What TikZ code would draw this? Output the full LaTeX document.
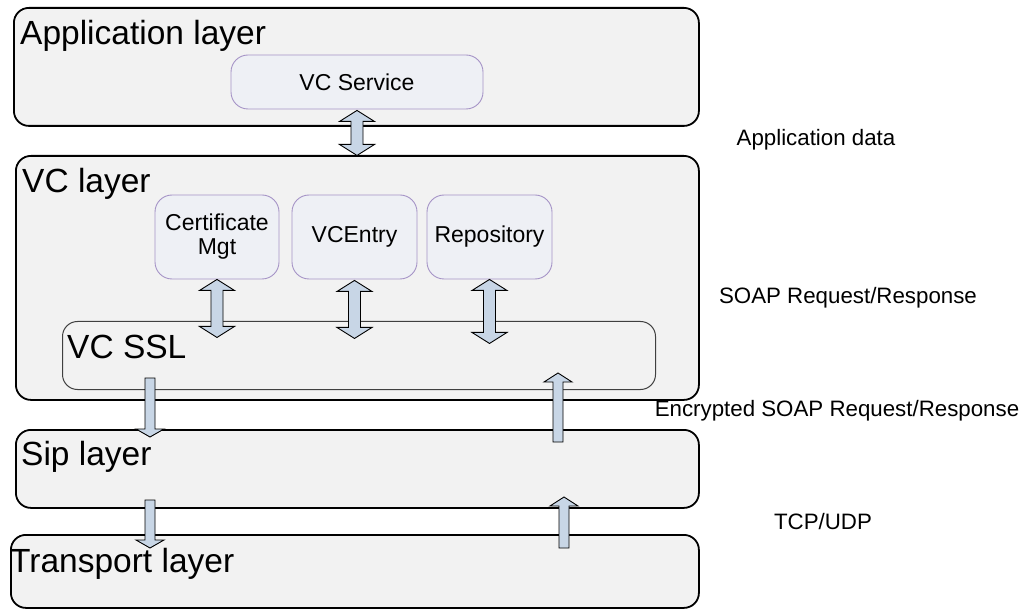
\documentclass[tikz,border=0pt]{standalone}
\usepackage{fontspec}
\setmainfont{Liberation Sans}
\usetikzlibrary{calc}
\definecolor{layfill}{HTML}{F2F2F2}
\definecolor{compfill}{HTML}{EEF0F5}
\definecolor{compdraw}{HTML}{A593C6}
\definecolor{arrfill}{HTML}{C8D6E6}
\definecolor{ssldraw}{HTML}{404040}
\tikzset{
  lay/.style={draw=black, line width=1.8pt, fill=layfill, rounded corners=15pt, inner sep=0pt, anchor=north west},
  sslbox/.style={draw=ssldraw, line width=1pt, fill=layfill, rounded corners=15pt, inner sep=0pt, anchor=north west},
  comp/.style={draw=compdraw, line width=0.9pt, fill=compfill, rounded corners=17pt, inner sep=0pt, align=center,
    font=\fontsize{23}{24}\selectfont},
  ttl/.style={inner sep=0pt, anchor=base west, font=\fontsize{33.5}{36}\selectfont},
  lbl/.style={inner sep=0pt, font=\fontsize{22.3}{24}\selectfont},
  blockarr/.style={draw=black, line width=0.9pt, fill=arrfill, line join=miter},
}
% double block arrow: top tip (#1), length #2
\newcommand\dblarr[2]{%
  \draw[blockarr] (#1) -- ++(17.5,11) -- ++(-11.5,0) -- ++(0,{#2-22}) -- ++(11.5,0) -- ++(-17.5,11)
    -- ++(-17.5,-11) -- ++(11.5,0) -- ++(0,{-(#2-22)}) -- ++(-11.5,0) -- cycle;}
% single down arrow: top (#1), length #2
\newcommand\downarr[2]{%
  \draw[blockarr] (#1) ++(-5,0) -- ++(10,0) -- ++(0,{#2-8}) -- ++(9,0) -- ++(-14,8) -- ++(-14,-8)
    -- ++(9,0) -- cycle;}
% single up arrow: tip (#1), length #2
\newcommand\uparr[2]{%
  \draw[blockarr] (#1) -- ++(14,9) -- ++(-9,0) -- ++(0,{#2-9}) -- ++(-10,0) -- ++(0,{-(#2-9)})
    -- ++(-9,0) -- cycle;}
\begin{document}
\begin{tikzpicture}[x=1pt,y=-1pt]
\useasboundingbox (0,0) rectangle (1025,609);

% layers
\node[lay, minimum width=685pt, minimum height=118pt] (app) at (13,7) {};
\node[lay, minimum width=683pt, minimum height=244pt] (vc) at (15,155) {};
\node[sslbox, minimum width=593pt, minimum height=68pt] (ssl) at (62,321) {};
\node[lay, minimum width=683pt, minimum height=78pt] (sip) at (15,429) {};
\node[lay, minimum width=688pt, minimum height=73pt] (trans) at (10,534) {};

% titles
\node[ttl] (appT) at (20,45) {Application layer};
\node[ttl] (vcT) at (22,193) {VC layer};
\node[ttl] (sslT) at (67,359) {VC SSL};
\node[ttl] (sipT) at (21,465) {Sip layer};
\node[ttl] (transT) at (10,572) {Transport layer};

% components
\node[comp, minimum width=252pt, minimum height=54pt] (vcs) at (357,82) {VC Service};
\node[comp, minimum width=124pt, minimum height=84pt] (cert) at (217,237) {Certificate\\Mgt};
\node[comp, minimum width=125pt, minimum height=84pt] (vce) at (354.5,237) {VCEntry};
\node[comp, minimum width=125pt, minimum height=84pt] (rep) at (489.5,237) {Repository};

% arrows
\coordinate (a1) at ($(vcs.south)+(0,1)$);
\dblarr{a1}{45}
\coordinate (a2) at (cert.south);
\dblarr{a2}{58}
\coordinate (a3) at ($(vce.south)+(0,1)$);
\dblarr{a3}{58}
\coordinate (a4) at (rep.south);
\dblarr{a4}{64}
\coordinate (d1) at (150,378);
\downarr{d1}{59}
\coordinate (u1) at (558,373);
\uparr{u1}{69}
\coordinate (d2) at (150,500);
\downarr{d2}{48}
\coordinate (u2) at (564,497);
\uparr{u2}{51}

% side labels
\node[lbl] (lA) at (816,140) {Application data};
\node[lbl] (lB) at (848,298) {SOAP Request/Response};
\node[lbl] (lC) at (837,411) {Encrypted SOAP Request/Response};
\node[lbl] (lD) at (823,522) {TCP/UDP};
\end{tikzpicture}
\end{document}
